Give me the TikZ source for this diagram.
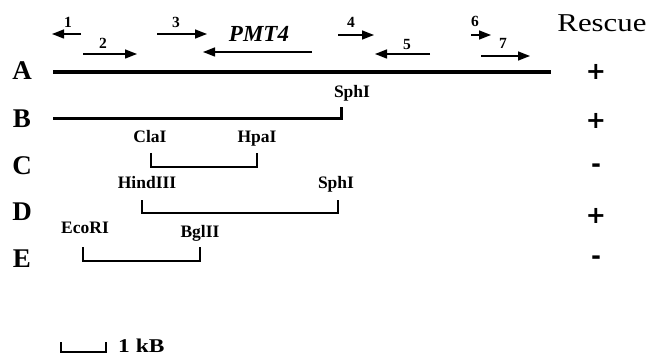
\documentclass[tikz,border=0pt]{standalone}
\usepackage{fontspec}
\setmainfont{Liberation Serif}
\newfontfamily\widefont[FakeStretch=1.2]{Liberation Serif}
\newfontfamily\signfont{DejaVu Sans}
\usetikzlibrary{arrows.meta}
\begin{document}
\begin{tikzpicture}[x=1pt,y=-1pt,
  rowlab/.style={font=\fontsize{27}{27}\selectfont\bfseries, anchor=center, inner sep=0pt},
  num/.style={font=\fontsize{15.5}{15.5}\selectfont\bfseries, anchor=base, inner sep=0pt},
  site/.style={font=\fontsize{17.5}{17.5}\selectfont\bfseries, anchor=base, inner sep=0pt},
  sign/.style={font=\signfont\fontsize{24}{24}\selectfont\bfseries, inner sep=0pt},
  primer/.style={line width=1.4pt, -{Triangle[length=12pt,width=9pt]}},
  fragA/.style={line width=4pt},
  frag/.style={line width=3pt},
  brk/.style={line width=2.5pt},
]
\useasboundingbox (0,0) rectangle (647,358);

% row labels
\node[rowlab] (lA) at (22,71) {A};
\node[rowlab] (lB) at (22,119) {B};
\node[rowlab] (lC) at (22,166) {C};
\node[rowlab] (lD) at (22,212) {D};
\node[rowlab] (lE) at (22,259) {E};

% Rescue column
\node[inner sep=0pt, anchor=base, font=\widefont\fontsize{25.7}{25.7}\selectfont] (resc) at (602,32) {Rescue};
\node[sign, anchor=center] (rA) at (596,72) {+};
\node[sign, anchor=center] (rB) at (596,121) {+};
\node[sign, anchor=center] (rC) at (596,168) {-};
\node[sign, anchor=center] (rD) at (596,216) {+};
\node[sign, anchor=center] (rE) at (596,260) {-};

% fragment A
\coordinate (a1) at (53,72);
\coordinate (a2) at (551,72);
\draw[fragA] (a1) -- (a2);

% fragment B
\coordinate (b1) at (53,119);
\coordinate (b2) at (341,119);
\coordinate (b3) at (341,107);
\draw[frag] (b1) -- (b2) -- (b3);
\node[site] (sphB) at (352,98) {SphI};

% fragment C
\node[site] (cla) at (150,143) {ClaI};
\node[site] (hpa) at (257,143) {HpaI};
\coordinate (c1) at (151,153);
\coordinate (c2) at (151,167);
\coordinate (c3) at (257,167);
\coordinate (c4) at (257,153);
\draw[brk] (c1) -- (c2) -- (c3) -- (c4);

% fragment D
\node[site] (hind) at (147,189) {HindIII};
\node[site] (sphD) at (336,188) {SphI};
\coordinate (d1) at (142,200);
\coordinate (d2) at (142,213);
\coordinate (d3) at (338,213);
\coordinate (d4) at (338,200);
\draw[brk] (d1) -- (d2) -- (d3) -- (d4);

% fragment E
\node[site] (eco) at (85,233) {EcoRI};
\node[site] (bgl) at (200,237) {BglII};
\coordinate (e1) at (83,247);
\coordinate (e2) at (83,261);
\coordinate (e3) at (200,261);
\coordinate (e4) at (200,247);
\draw[brk] (e1) -- (e2) -- (e3) -- (e4);

% primers
\coordinate (p1s) at (81,34);  \coordinate (p1e) at (52,34);
\coordinate (p2s) at (83,54);  \coordinate (p2e) at (137,54);
\coordinate (p3s) at (157,34); \coordinate (p3e) at (207,34);
\coordinate (p4s) at (338,35); \coordinate (p4e) at (374,35);
\coordinate (p5s) at (430,54); \coordinate (p5e) at (375,54);
\coordinate (p6s) at (471,35); \coordinate (p6e) at (491,35);
\coordinate (p7s) at (481,56); \coordinate (p7e) at (530,56);
\coordinate (gs) at (312,52);  \coordinate (ge) at (203,52);
\draw[primer] (p1s) -- (p1e);
\draw[primer] (p2s) -- (p2e);
\draw[primer] (p3s) -- (p3e);
\draw[primer] (p4s) -- (p4e);
\draw[primer] (p5s) -- (p5e);
\draw[primer] (p6s) -- (p6e);
\draw[primer] (p7s) -- (p7e);
\draw[primer] (gs) -- (ge);

\node[num] (n1) at (68,28) {1};
\node[num] (n2) at (103,49) {2};
\node[num] (n3) at (176,28) {3};
\node[num] (n4) at (351,28) {4};
\node[num] (n5) at (407,50) {5};
\node[num] (n6) at (475,27) {6};
\node[num] (n7) at (503,49) {7};
\node[inner sep=0pt, anchor=base, font=\fontsize{23}{23}\selectfont\bfseries\itshape] (pmt) at (259,42) {PMT4};

% scale bar
\coordinate (s1) at (61,342);
\coordinate (s2) at (61,352);
\coordinate (s3) at (106,352);
\coordinate (s4) at (106,342);
\draw[brk] (s1) -- (s2) -- (s3) -- (s4);
\node[inner sep=0pt, anchor=base west, font=\widefont\fontsize{19.5}{19.5}\selectfont\bfseries] (kb) at (118,352) {1 kB};
\end{tikzpicture}
\end{document}
